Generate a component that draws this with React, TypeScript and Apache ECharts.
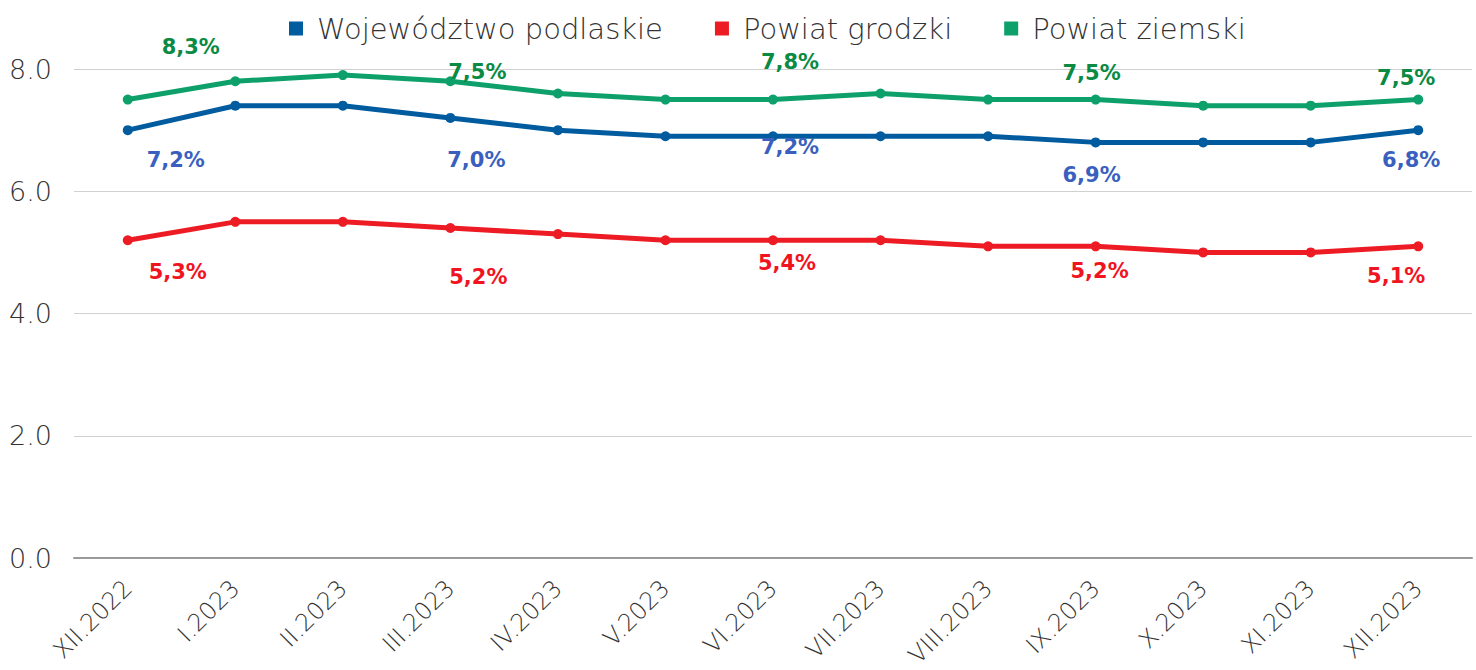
import React, { useEffect, useRef } from "react";
import * as echarts from "echarts";

const categories = [
  "XII.2022", "I.2023", "II.2023", "III.2023", "IV.2023", "V.2023", "VI.2023",
  "VII.2023", "VIII.2023", "IX.2023", "X.2023", "XI.2023", "XII.2023",
];
const seriesNames = ["Województwo podlaskie", "Powiat grodzki", "Powiat ziemski"];
const wojewodztwo = [7.0, 7.4, 7.4, 7.2, 7.0, 6.9, 6.9, 6.9, 6.9, 6.8, 6.8, 6.8, 7.0];
const grodzki = [5.2, 5.5, 5.5, 5.4, 5.3, 5.2, 5.2, 5.2, 5.1, 5.1, 5.0, 5.0, 5.1];
const ziemski = [7.5, 7.8, 7.9, 7.8, 7.6, 7.5, 7.5, 7.6, 7.5, 7.5, 7.4, 7.4, 7.5];
// data label texts (index -> text)
const wojLabels: Record<number, string> = { 0: "7,2%", 3: "7,0%", 6: "7,2%", 9: "6,9%", 12: "6,8%" };
const grodLabels: Record<number, string> = { 0: "5,3%", 3: "5,2%", 6: "5,4%", 9: "5,2%", 12: "5,1%" };
const ziemLabels: Record<number, string> = { 0: "8,3%", 3: "7,5%", 6: "7,8%", 9: "7,5%", 12: "7,5%" };
const yTicks = [0, 2, 4, 6, 8];

// label placement (pixel offsets from the point)
const wojOffsets: Record<number, number[]> = { 0: [48, 30], 3: [26, 42], 6: [17, 11], 9: [-4, 33], 12: [-7, 30] };
const grodOffsets: Record<number, number[]> = { 0: [50, 32], 3: [28, 49], 6: [14, 23], 9: [4, 25], 12: [-22, 30] };
const ziemOffsets: Record<number, number[]> = { 0: [63, -53], 3: [27, -9], 6: [17, -38], 9: [-4, -27], 12: [-12, -22] };

const LIGHT = "'DejaVu Sans', sans-serif";
const BOLD = "'DejaVu Sans', sans-serif";

function buildData(values: number[], labels: Record<number, string>, offsets: Record<number, number[]>, labelColor: string) {
  return values.map((v, i) => {
    if (labels[i] === undefined) return { value: v };
    return {
      value: v,
      label: {
        show: true,
        position: "inside",
        offset: offsets[i],
        formatter: labels[i],
        color: labelColor,
        fontFamily: BOLD,
        fontWeight: "bold",
        fontSize: 21,
      },
    };
  });
}

export default function App() {
  const ref = useRef<HTMLDivElement>(null);
  useEffect(() => {
    document.body.style.margin = "0";
    const chart = echarts.init(ref.current!, undefined, { renderer: "svg" });
    const mk = (name: string, values: number[], color: string, labels: Record<number, string>, offsets: Record<number, number[]>, labelColor: string) => ({
      name,
      type: "line",
      data: buildData(values, labels, offsets, labelColor),
      symbol: "circle",
      symbolSize: 10,
      itemStyle: { color },
      lineStyle: { color, width: 5 },
      label: { show: false },
    });
    chart.setOption({
      animation: false,
      backgroundColor: "#ffffff",
      legend: {
        top: 9,
        left: 284,
        icon: "rect",
        itemWidth: 14,
        itemHeight: 14,
        itemGap: 52,
        textStyle: { fontFamily: LIGHT, fontWeight: 200, fontSize: 29, color: "#333333", padding: [0, 0, 0, 9] },
        data: seriesNames,
      },
      grid: { left: 74, right: 4, top: 69, bottom: 111, containLabel: false },
      xAxis: {
        type: "category",
        data: categories,
        boundaryGap: true,
        axisLine: { show: true, lineStyle: { color: "#9a9a9a", width: 2 } },
        axisTick: { show: false },
        axisLabel: {
          rotate: 45,
          margin: 26,
          interval: 0,
          fontFamily: LIGHT,
          fontWeight: 200,
          fontSize: 24,
          color: "#333333",
        },
      },
      yAxis: {
        type: "value",
        min: yTicks[0],
        max: yTicks[yTicks.length - 1],
        interval: 2,
        axisLine: { show: false },
        axisTick: { show: false },
        splitLine: { lineStyle: { color: "#d0d0d0", width: 1 } },
        axisLabel: {
          margin: 22,
          formatter: (v: number) => v.toFixed(1),
          fontFamily: LIGHT,
          fontWeight: 200,
          fontSize: 27,
          color: "#333333",
        },
      },
      series: [
        mk(seriesNames[0], wojewodztwo, "#005B9F", wojLabels, wojOffsets, "#3A5FBE"),
        mk(seriesNames[1], grodzki, "#ED1C24", grodLabels, grodOffsets, "#F0141E"),
        mk(seriesNames[2], ziemski, "#0DA06A", ziemLabels, ziemOffsets, "#0A8A43"),
      ],
    });
    return () => chart.dispose();
  }, []);
  return <div ref={ref} style={{ width: 1476, height: 670 }} />;
}
